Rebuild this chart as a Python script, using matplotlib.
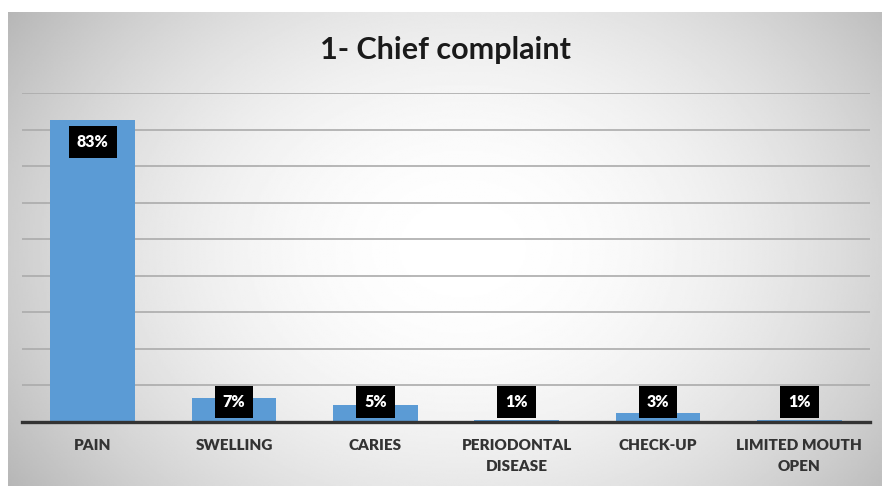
import numpy as np
import matplotlib.pyplot as plt

categories = ["PAIN", "SWELLING", "CARIES", "PERIODONTAL\nDISEASE", "CHECK-UP", "LIMITED MOUTH\nOPEN"]
# bar heights as drawn in the picture (the 1% bars are hidden by the axis line)
values = [82.5, 6.6, 4.6, 0.5, 2.5, 0.5]
labels = ["83%", "7%", "5%", "1%", "3%", "1%"]

plt.rcParams['font.family'] = ['Lato', 'DejaVu Sans']

fig = plt.figure(figsize=(8.82, 4.86), dpi=100)
fig.patch.set_facecolor("white")

# radial gray gradient behind the chart
bg = fig.add_axes([8 / 882, 0, 1 - 8 / 882, 1 - 12 / 486])
yy, xx = np.mgrid[0:1:300j, 0:1:500j]
r = np.sqrt(((xx - 0.52) / 0.6) ** 2 + ((yy - 0.5) / 0.85) ** 2)
shade = 1 - 0.26 * np.clip(r, 0, 1.3) ** 2
bg.imshow(shade, cmap="gray", vmin=0, vmax=1, aspect="auto", extent=[0, 1, 0, 1])
bg.axis("off")

ax = fig.add_axes([22 / 882, 1 - 422 / 486, 848 / 882, (422 - 93) / 486])
ax.set_facecolor("none")
x = np.arange(len(categories))
ax.bar(x, values, width=0.6, color="#5b9bd5", zorder=2)

ax.set_ylim(0, 90)
ax.set_xlim(-0.5, len(categories) - 0.5)
ax.set_yticks(np.arange(0, 91, 10))
ax.yaxis.grid(True, color="#ababab", linewidth=1.2, zorder=0)
ax.tick_params(axis="y", left=False, labelleft=False)
ax.tick_params(axis="x", bottom=False, pad=9)
ax.set_xticks(x)
ax.set_xticklabels(categories, fontsize=11, fontweight="heavy", color="#333333", linespacing=1.7)
for s in ["top", "right", "left"]:
    ax.spines[s].set_visible(False)
ax.spines["bottom"].set_color("#333333")
ax.spines["bottom"].set_linewidth(2.4)
ax.spines["bottom"].set_zorder(3)

for xi, v, lab in zip(x, values, labels):
    ly = v - 6.0 if v > 20 else 5.6
    ax.text(xi, ly, lab, ha="center", va="center", color="white", fontsize=11.5,
            fontweight="heavy", zorder=4,
            bbox=dict(boxstyle="square,pad=0.5", facecolor="black", edgecolor="none"))

fig.text(0.505, 1 - 50 / 486, "1- Chief complaint", ha="center", va="center",
         fontsize=22, fontweight="bold", color="#1a1a1a")

fig.savefig("out.png", dpi=100)
